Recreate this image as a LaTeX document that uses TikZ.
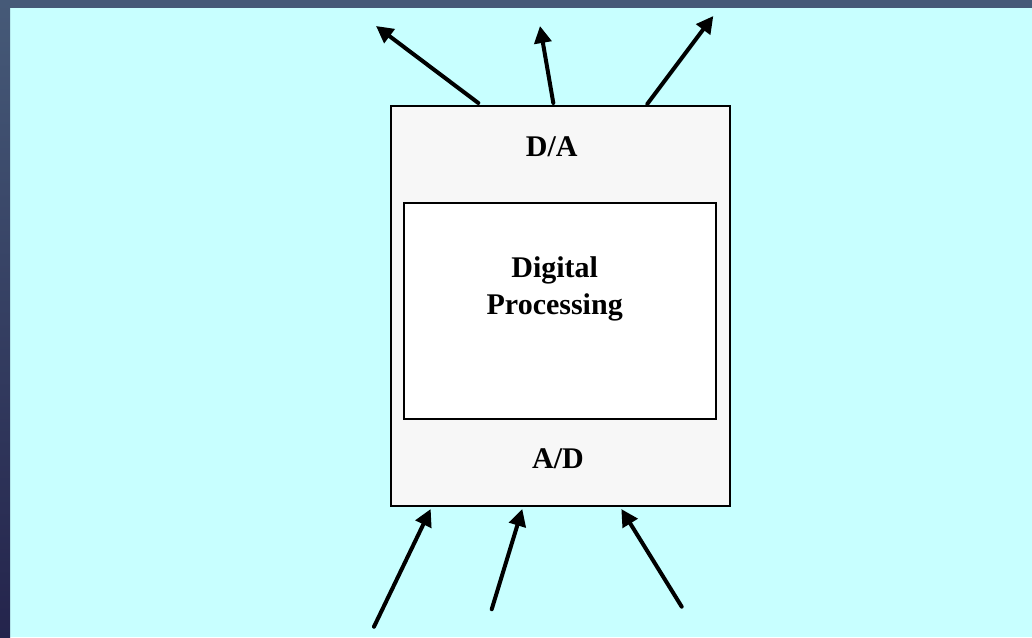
\documentclass[tikz,border=0pt]{standalone}
\usepackage{fontspec}
\setmainfont{Liberation Serif}
\usetikzlibrary{arrows.meta}
\definecolor{sky}{HTML}{C8FFFF}
\definecolor{frametop}{HTML}{465A78}
\definecolor{framebot}{HTML}{24244C}
\definecolor{panel}{HTML}{F7F7F7}
\tikzset{
  panelbox/.style={draw=black, line width=2pt, fill=panel, inner sep=0pt},
  corebox/.style={draw=black, line width=2pt, fill=white, inner sep=0pt},
  label/.style={font=\fontsize{30}{36}\selectfont\bfseries, inner sep=0pt, anchor=base},
  sig/.style={line width=4pt, line cap=round, -{Triangle[length=17pt 0,width=17pt 0]}}
}
\begin{document}
\begin{tikzpicture}[x=1pt,y=1pt]
\useasboundingbox (0,0) rectangle (1032,637);
% slide background and frame
\fill[sky] (0,0) rectangle (1032,637);
\shade[top color=frametop, bottom color=framebot] (0,0) rectangle (10,637);
\fill[frametop] (0,629) rectangle (1032,637);

% converter block with the processing core inside
\node[panelbox, minimum width=339pt, minimum height=400pt] (outer) at (560.5,331) {};
\node[corebox, minimum width=312pt, minimum height=216pt] (core) at (560,326) {};
\node[label] (da) at (551.7,480.3) {D/A};
\node[label] (dig) at (554.7,359) {Digital};
\node[label] (proc) at (554.7,322) {Processing};
\node[label] (ad) at (558,168) {A/D};

% outgoing analog signals
\coordinate (o1) at (376,611);
\coordinate (o2) at (540,611);
\coordinate (o3) at (713.3,621);
\draw[sig] ([shift={(88.3,2)}]outer.north west) -- (o1);
\draw[sig] ([shift={(163.3,2)}]outer.north west) -- (o2);
\draw[sig] ([shift={(257.3,1)}]outer.north west) -- (o3);

% incoming analog signals
\coordinate (i1) at (374,10.3);
\coordinate (i2) at (491.7,27.7);
\coordinate (i3) at (681.7,30.3);
\draw[sig] (i1) -- ([shift={(40.7,-2)}]outer.south west);
\draw[sig] (i2) -- ([shift={(132.3,-2)}]outer.south west);
\draw[sig] (i3) -- ([shift={(231.3,-2)}]outer.south west);
\end{tikzpicture}
\end{document}
